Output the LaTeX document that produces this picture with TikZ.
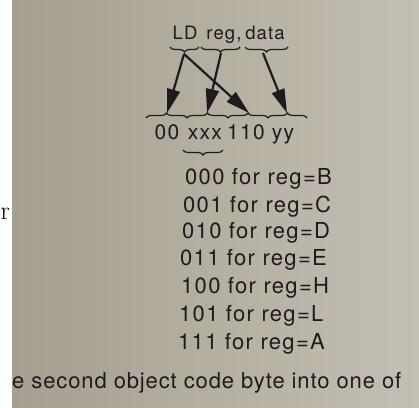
\documentclass[tikz,border=0pt]{standalone}
\usepackage{fontspec}
\setmainfont{TeX Gyre Heros}
\newfontfamily\bookfont[LetterSpace=6]{TeX Gyre Heros}
\newfontfamily\linefont[LetterSpace=4]{TeX Gyre Heros}
\newfontfamily\marginfont{Latin Modern Roman}
\usetikzlibrary{arrows.meta,decorations.pathreplacing,positioning}
\definecolor{paper}{RGB}{166,159,144}
\definecolor{paperlight}{RGB}{196,191,179}
\definecolor{ink}{RGB}{28,27,30}

\begin{document}
\begin{tikzpicture}[
    x=1pt, y=-1pt,
    word/.style={inner sep=0pt, anchor=base, text=ink, font=\bookfont\fontsize{18.5}{18.5}\selectfont},
    field/.style={inner sep=0pt, anchor=base, text=ink, font=\bookfont\fontsize{21}{21}\selectfont},
    code/.style={inner sep=0pt, anchor=base west, text=ink, font=\bookfont\fontsize{22}{22}\selectfont},
    brace/.style={draw=ink, line width=1.2pt, decorate, decoration={brace, amplitude=5pt}},
    ubrace/.style={brace, decoration={brace, amplitude=5pt, mirror}},
    arrow/.style={draw=ink, line width=2.2pt, -{Triangle[length=24pt, width=13pt]}}
]

% Page and photo
\useasboundingbox (0,0) rectangle (419,407);
\fill[white] (0,0) rectangle (419,407);
\fill[left color=paper, right color=paperlight] (12,0) rectangle (419,407);

% Instruction
\node[word] (ld) at (185,39) {LD};
\node[word] (reg) at (224,39) {reg,};
\node[word] (data) at (265,39) {data};

\draw[ubrace] (170,47) -- (199,47);
\draw[ubrace] (201,47) -- (240,47);
\draw[ubrace] (245,47) -- (288,47);

\coordinate (tld) at (184,54);
\coordinate (treg) at (221,53);
\coordinate (tdata) at (263,53);

% Object code fields
\node[field] (f00) at (167,139) {00};
\node[field] (fxxx) at (205,139) {xxx};
\node[field] (f110) at (246,139) {110};
\node[field] (fyy) at (283,139) {yy};

\draw[brace] (146,118) -- (187,118);
\draw[brace] (187,118) -- (228,118);
\draw[brace] (228,118) -- (268,118);
\draw[brace] (268,118) -- (307,118);

\coordinate (h00) at (167,113);
\coordinate (hxxx) at (207,113);
\coordinate (h110) at (249,113);
\coordinate (hyy) at (287,113);

% Arrows
\draw[arrow] (tld) -- (h00);
\draw[arrow] (tld) -- (h110);
\draw[arrow] (treg) -- (hxxx);
\draw[arrow] (tdata) -- (hyy);

% Register codes
\draw[ubrace] (183,150) -- (223,150);

\node[code] (c000) at (185,184) {000 for reg=B};
\node[code] (c001) at (183,212) {001 for reg=C};
\node[code] (c010) at (182,238) {010 for reg=D};
\node[code] (c011) at (180,265) {011 for reg=E};
\node[code] (c100) at (181,293) {100 for reg=H};
\node[code] (c101) at (179,321) {101 for reg=L};
\node[code] (c111) at (178,349) {111 for reg=A};

% Surrounding text
\node[inner sep=0pt, anchor=base west, text=ink, font=\linefont\fontsize{22}{22}\selectfont] (line) at (12,388) {e second object code byte into one of};
\node[inner sep=0pt, anchor=base west, font=\marginfont\fontsize{26}{26}\selectfont] (margin) at (0.5,219) {r};

\end{tikzpicture}
\end{document}
